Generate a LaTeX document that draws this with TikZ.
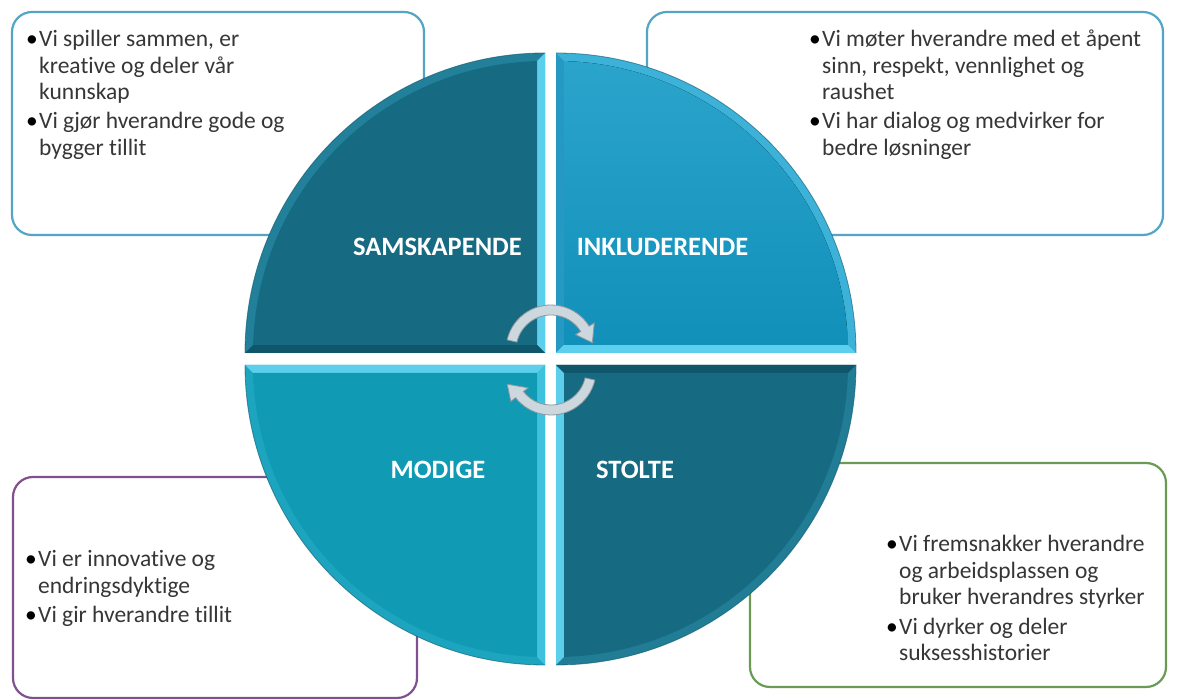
\documentclass[tikz,border=0pt]{standalone}
\usepackage{fontspec}
\setmainfont{Carlito}[Ligatures=NoCommon,RawFeature={-liga;-dlig}]
\definecolor{txt}{HTML}{363636}
\definecolor{boxblue}{HTML}{52A6C4}
\definecolor{boxpurple}{HTML}{80508F}
\definecolor{boxgreen}{HTML}{6A9B55}
\definecolor{qdark}{HTML}{166A81}
\definecolor{qdarkarc}{HTML}{22809A}
\definecolor{qdarkside}{HTML}{0F566A}
\definecolor{qbright}{HTML}{5CCFEC}
\definecolor{qbluetop}{HTML}{2BA4CB}
\definecolor{qbluebot}{HTML}{1190BA}
\definecolor{qblueside}{HTML}{2699C2}
\definecolor{qbluearc}{HTML}{3DB2D8}
\definecolor{qteal}{HTML}{119AB4}
\definecolor{qtealside}{HTML}{3FC2DE}
\definecolor{qtealarc}{HTML}{1DA4BF}
\definecolor{qfourarc}{HTML}{217C96}
\definecolor{arrowfill}{HTML}{CDD8DE}
\definecolor{arrowedge}{HTML}{8C979F}
\newcommand{\bodyfont}{\fontsize{23.5}{26.5}\selectfont}
\newcommand{\labfont}{\fontsize{26.5}{30}\selectfont\bfseries}
% #1 x, #2 y, #3 xscale, #4 yscale, #5 main fill, #6 vertical strip, #7 horizontal strip, #8 arc strip
\newcommand{\drawquad}[8]{%
  \begin{scope}[shift={(#1,#2)},xscale=#3,yscale=#4]
    \fill[#8] (0,0) -- (-300,0) arc[start angle=180,end angle=90,radius=300] -- cycle;
    \fill[#6] (0,0) -- (0,300) -- (91.57:292) -- (-8,8) -- cycle;
    \fill[#7] (0,0) -- (-300,0) -- (178.43:292) -- (-8,8) -- cycle;
    \fill[#5] (-8,8) -- (178.43:292) arc[start angle=178.43,end angle=91.57,radius=292] -- cycle;
    \draw[qdarkside,line width=0.8pt,opacity=0.6] (-300,0) arc[start angle=180,end angle=90,radius=300];
  \end{scope}}
\tikzset{
  txtline/.style={anchor=base west, inner sep=0pt, font=\bodyfont, text=txt},
  bul/.style={anchor=base east, inner sep=0pt, font=\bodyfont, text=black},
  lab/.style={inner sep=0pt, font=\labfont, text=white},
  tbox/.style={rounded corners=20pt, line width=2.2pt, fill=white},
  arrowsty/.style={fill=arrowfill, draw=arrowedge, line width=0.8pt}
}
\begin{document}
\begin{tikzpicture}[x=1pt,y=1pt]
\useasboundingbox (0,0) rectangle (1178,700);
\fill[white] (0,0) rectangle (1178,700);

% text boxes
\draw[tbox,draw=boxblue] (12,465) rectangle (424,688);
\draw[tbox,draw=boxblue] (647,465) rectangle (1163,688);
\draw[tbox,draw=boxpurple] (13,2) rectangle (417,223);
\draw[tbox,draw=boxgreen] (750,13) rectangle (1166,237);

% quadrants
\drawquad{545}{347}{1}{1}{qdark}{qbright}{qdarkside}{qdarkarc}
\drawquad{556}{347}{-1}{1}{top color=qbluetop,bottom color=qbluebot}{qblueside}{qbright}{qbluearc}
\drawquad{545}{335}{1}{-1}{qteal}{qtealside}{qbright}{qtealarc}
\drawquad{556}{335}{-1}{-1}{qdark}{qbright}{qdarkside}{qfourarc}

% labels
\node[lab] (samskapende) at (437.5,453) {SAMSKAPENDE};
\node[lab] (inkluderende) at (662.5,453) {INKLUDERENDE};
\node[lab] (modige) at (438,230) {MODIGE};
\node[lab] (stolte) at (635,230) {STOLTE};

% rotation arrows
\begin{scope}[shift={(551,350)}]
  \filldraw[arrowsty] (167:45) arc[start angle=167,end angle=32,radius=45] -- (32:51) -- (10:42) -- (32:29) -- (32:35) arc[start angle=32,end angle=167,radius=35] -- cycle;
\end{scope}
\begin{scope}[shift={(551,330)}]
  \filldraw[arrowsty] (-13:45) arc[start angle=-13,end angle=-142,radius=45] -- (-142:51) -- (-162:46) -- (-142:29) -- (-142:35) arc[start angle=-142,end angle=-13,radius=35] -- cycle;
\end{scope}

% box 1 text
\node[bul] (b1a) at (38,653) {•};
\node[txtline] (t1a) at (39,653) {Vi spiller sammen, er};
\node[txtline] (t1b) at (39,626.5) {kreative og deler vår};
\node[txtline] (t1c) at (39,600) {kunnskap};
\node[bul] (b1b) at (38,571) {•};
\node[txtline] (t1d) at (39,571) {Vi gjør hverandre gode og};
\node[txtline] (t1e) at (39,544.5) {bygger tillit};

% box 2 text
\node[bul] (b2a) at (821,653) {•};
\node[txtline] (t2a) at (822,653) {Vi møter hverandre med et åpent};
\node[txtline] (t2b) at (822,626.5) {sinn, respekt, vennlighet og};
\node[txtline] (t2c) at (822,600) {raushet};
\node[bul] (b2b) at (821,571) {•};
\node[txtline] (t2d) at (822,571) {Vi har dialog og medvirker for};
\node[txtline] (t2e) at (822,544.5) {bedre løsninger};

% box 3 text
\node[bul] (b3a) at (37,133) {•};
\node[txtline] (t3a) at (38,133) {Vi er innovative og};
\node[txtline] (t3b) at (38,106.5) {endringsdyktige};
\node[bul] (b3b) at (37,77) {•};
\node[txtline] (t3c) at (38,77) {Vi gir hverandre tillit};

% box 4 text
\node[bul] (b4a) at (898,148) {•};
\node[txtline] (t4a) at (899,148) {Vi fremsnakker hverandre};
\node[txtline] (t4b) at (899,121.5) {og arbeidsplassen og};
\node[txtline] (t4c) at (899,95) {bruker hverandres styrker};
\node[bul] (b4b) at (898,65.5) {•};
\node[txtline] (t4d) at (899,65.5) {Vi dyrker og deler};
\node[txtline] (t4e) at (899,39) {suksesshistorier};
\end{tikzpicture}
\end{document}
